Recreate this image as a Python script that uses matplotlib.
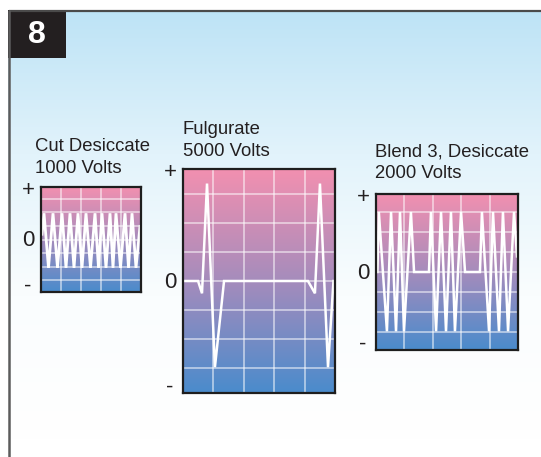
import numpy as np
import matplotlib
matplotlib.use("Agg")
import matplotlib.pyplot as plt
from matplotlib.colors import LinearSegmentedColormap
from matplotlib.patches import Rectangle

plt.rcParams['font.family'] = ['Liberation Sans', 'DejaVu Sans']

# ---------------- data ----------------
panel_number = "8"
titles = ["Cut Desiccate\n1000 Volts", "Fulgurate\n5000 Volts", "Blend 3, Desiccate\n2000 Volts"]
level_labels = ["+", "0", "-"]
level_values = [1.0, 0.0, -1.0]

cut_x = [0.01, 0.03, 0.075, 0.12, 0.165, 0.21, 0.25, 0.29, 0.33, 0.37, 0.41, 0.45, 0.495,
         0.54, 0.575, 0.61, 0.65, 0.69, 0.72, 0.75, 0.795, 0.84, 0.875, 0.91, 0.95, 0.99]
cut_y = [0.1, 0.5, -0.54, 0.5, -0.54, 0.5, -0.54, 0.5, -0.54, 0.5, -0.54, 0.5, -0.54,
         0.5, -0.54, 0.5, -0.54, 0.5, -0.54, 0.5, -0.54, 0.5, -0.54, 0.5, -0.54, 0.25]

fulg_x = [0.0, 0.099, 0.125, 0.158, 0.21, 0.27, 0.822, 0.868, 0.901, 0.954, 0.99]
fulg_y = [0.0, 0.0, -0.11, 0.87, -0.77, 0.0, 0.0, -0.11, 0.87, -0.77, 0.0]

blend_x = [0.01, 0.02, 0.077, 0.106, 0.141, 0.169, 0.197, 0.246, 0.268, 0.373, 0.387, 0.423,
           0.458, 0.493, 0.528, 0.556, 0.599, 0.627, 0.732, 0.746, 0.796, 0.824, 0.866,
           0.894, 0.93, 0.972, 0.993]
blend_y = [0.0, 0.77, -0.76, 0.77, -0.76, 0.77, -0.76, 0.77, 0.0, 0.0, 0.77, -0.76,
           0.77, -0.76, 0.77, -0.76, 0.77, 0.0, 0.0, 0.77, -0.76, 0.77, -0.76,
           0.77, -0.76, 0.77, 0.2]

series = [(cut_x, cut_y), (fulg_x, fulg_y), (blend_x, blend_y)]

# ---------------- layout (pixels) ----------------
W, H = 541, 457
boxes = [(41, 187, 141, 292), (183, 169, 335, 393), (376, 194, 518, 350)]
title_dx = [-6, 0, -1]
title_gap = [10, 9, 12]
lw_wave = [2.0, 1.8, 1.8]

fig = plt.figure(figsize=(W / 100, H / 100), dpi=100)
fig.patch.set_facecolor('white')

# background
bg = fig.add_axes([0, 0, 1, 1])
bg.set_xlim(0, W)
bg.set_ylim(H, 0)
bg.axis('off')
bg_cmap = LinearSegmentedColormap.from_list('bg', ['#bde3f6', '#e2f3fb', '#fafdfe', '#ffffff'])
grad = np.linspace(0, 1, 256).reshape(-1, 1)
bg.imshow(grad, cmap=bg_cmap, extent=(8, W, 440, 10), aspect='auto', interpolation='bilinear')
bg.plot([8.5, W], [10.5, 10.5], color='#4a4a4a', lw=1.6, solid_capstyle='butt')
bg.plot([9, 9], [10, H], color='#5c5c5c', lw=1.8, solid_capstyle='butt')
bg.add_patch(Rectangle((8, 10), 58, 48, facecolor='#231f20', edgecolor='none'))
bg.text(37, 35, panel_number, color='white', fontsize=23, fontweight='bold',
        ha='center', va='center')

box_cmap = LinearSegmentedColormap.from_list('box', ['#4a8bcc', '#a58cbc', '#f290b0'])

for i, ((x0, y0, x1, y1), (xs, ys)) in enumerate(zip(boxes, series)):
    ax = fig.add_axes([x0 / W, (H - y1) / H, (x1 - x0) / W, (y1 - y0) / H])
    ax.set_xlim(0, 1)
    ax.set_ylim(-1, 1)
    ax.imshow(np.linspace(0, 1, 256).reshape(-1, 1), cmap=box_cmap, origin='lower',
              extent=(0, 1, -1, 1), aspect='auto', interpolation='bilinear', zorder=0)
    for gx in [0.2, 0.4, 0.6, 0.8]:
        ax.axvline(gx, color='white', alpha=0.55, lw=1.3, zorder=1)
    for k in range(-3, 4):
        ax.axhline(k * 0.258, color='white', alpha=0.55, lw=1.3, zorder=1)
    ax.plot(xs, ys, color='white', lw=lw_wave[i], zorder=3, solid_joinstyle='miter')
    ax.set_xticks([])
    ax.set_yticks([])
    for s in ax.spines.values():
        s.set_color('#1e1e1e')
        s.set_linewidth(1.6)
        s.set_zorder(5)
    # level labels
    offs = [-3.5, -1.5, 5.5]
    for lab, v, dy in zip(level_labels, level_values, offs):
        ax.annotate(lab, xy=(0, v), xycoords=('axes fraction', 'data'),
                    xytext=(-13, dy), textcoords='offset pixels',
                    ha='center', va='center', fontsize=16, color='#231f20')
    ax.annotate(titles[i], xy=(0, 1), xycoords='axes fraction',
                xytext=(title_dx[i], title_gap[i]), textcoords='offset pixels',
                ha='left', va='bottom', fontsize=13.3, color='#231f20', linespacing=1.35)

fig.savefig('out.png', dpi=100, facecolor='white')
